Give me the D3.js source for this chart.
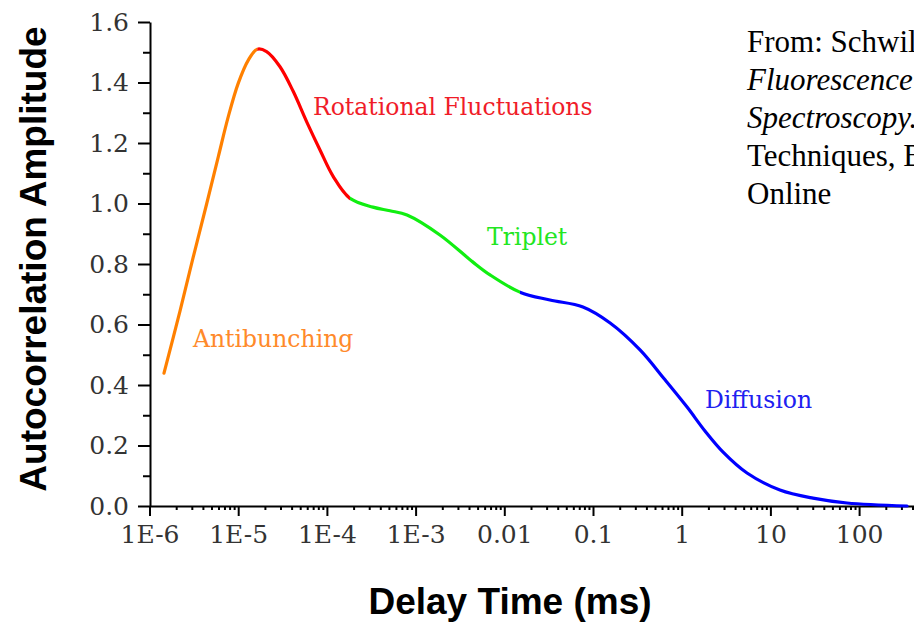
<!DOCTYPE html>
<html>
<head>
<meta charset="utf-8">
<script src="https://cdn.jsdelivr.net/npm/d3@7"></script>
<style>
  body { margin: 0; background: #fff; }
  svg { display: block; }
</style>
</head>
<body>
<div class="canvas"></div>
<script>
// data (delay time in ms, amplitude)
const antibunching = [
  [1.457e-6, 0.439], [2.21e-6, 0.645], [3.12e-6, 0.824], [4.42e-6, 1.0],
  [5.97e-6, 1.155], [7.73e-6, 1.287], [1.0e-5, 1.397], [1.30e-5, 1.474],
  [1.64e-5, 1.510]
];
const rotational = [
  [1.64e-5, 1.510], [2.09e-5, 1.502], [2.96e-5, 1.452], [4.18e-5, 1.370],
  [5.92e-5, 1.270], [8.36e-5, 1.177], [1.18e-4, 1.089], [1.82e-4, 1.017]
];
const triplet = [
  [1.82e-4, 1.017], [3.3e-4, 0.988], [5.14e-4, 0.976], [8.0e-4, 0.962],
  [1.88e-3, 0.896], [4.4e-3, 0.807], [6.9e-3, 0.764], [0.015, 0.707]
];
const diffusion = [
  [0.015, 0.707], [0.0327, 0.681], [0.077, 0.658], [0.156, 0.605],
  [0.339, 0.516], [0.649, 0.417], [1.15, 0.327], [1.83, 0.248],
  [2.93, 0.178], [5.45, 0.109], [12.8, 0.053], [30.2, 0.026],
  [73, 0.010], [347, 0.0]
];

const xTickValues = [1e-6, 1e-5, 1e-4, 1e-3, 0.01, 0.1, 1, 10, 100];
const xTickLabels = ['1E-6', '1E-5', '1E-4', '1E-3', '0.01', '0.1', '1', '10', '100'];
const yTickValues = [0, 0.2, 0.4, 0.6, 0.8, 1.0, 1.2, 1.4, 1.6];

const segNames = ['Antibunching', 'Rotational Fluctuations', 'Triplet', 'Diffusion'];
const segColors = ['#ff8000', '#ff0000', '#11ee11', '#0000ff'];
const labelColors = ['#ff8a2a', '#f01c28', '#22e622', '#2020f0'];
// label anchors in data units
const labelAnchors = [[3.09e-6, 0.526], [6.97e-5, 1.293], [6.38e-3, 0.863], [1.83, 0.324]];

const width = 914, height = 624;

const svg = d3.select('.canvas')
  .append('svg')
    .attr('width', width)
    .attr('height', height);

// scales
const x = d3.scaleLog()
  .domain([1e-6, 1000])
  .range([149.5, 149.5 + 9 * 88.7]);

const y = d3.scaleLinear()
  .domain([0, 1.6])
  .range([506, 22]);

// minor ticks
const xMinor = [];
for (let e = -6; e <= 2; e++) {
  for (let k = 2; k <= 9; k++) xMinor.push(k * Math.pow(10, e));
}
const yMinor = d3.range(0.1, 1.6, 0.2);

const serif = 'DejaVu Serif';

// y axis
svg.append('g')
  .attr('transform', 'translate(150,0)')
  .call(d3.axisLeft(y).tickValues(yTickValues).tickSize(12).tickSizeOuter(0)
    .tickPadding(9).tickFormat(d3.format('.1f')));

svg.append('g')
  .attr('transform', 'translate(150,0)')
  .call(d3.axisLeft(y).tickValues(yMinor).tickSize(7).tickFormat(''))
  .call(g => g.select('.domain').remove());

// x axis
svg.append('g')
  .attr('transform', 'translate(0,506)')
  .call(d3.axisBottom(x).tickValues(xTickValues).tickSize(10).tickSizeOuter(0)
    .tickPadding(9).tickFormat((d, i) => xTickLabels[i]));

svg.append('g')
  .attr('transform', 'translate(0,506)')
  .call(d3.axisBottom(x).tickValues(xMinor).tickSize(4).tickFormat(''))
  .call(g => g.select('.domain').remove());

svg.selectAll('.domain, .tick line')
  .attr('stroke', '#000')
  .attr('stroke-width', 2);

svg.selectAll('.tick text')
  .attr('font-family', serif)
  .attr('font-size', 25)
  .attr('fill', '#333');

// one smooth curve through all points, coloured per segment with clip rects
const segments = [antibunching, rotational, triplet, diffusion];
const allPoints = antibunching.concat(rotational.slice(1), triplet.slice(1), diffusion.slice(1));

const line = d3.line()
  .x(d => x(d[0]))
  .y(d => y(d[1]))
  .curve(d3.curveCatmullRom.alpha(0.5));

const defs = svg.append('defs');
segments.forEach((seg, i) => {
  const x0 = i === 0 ? 0 : x(seg[0][0]);
  const x1 = i === segments.length - 1 ? width : x(seg[seg.length - 1][0]);
  defs.append('clipPath')
    .attr('id', 'seg' + i)
    .append('rect')
      .attr('x', x0)
      .attr('y', 0)
      .attr('width', x1 - x0)
      .attr('height', height);
});

svg.append('g')
  .selectAll('path')
  .data(segments)
  .enter()
  .append('path')
    .attr('d', line(allPoints))
    .attr('clip-path', (d, i) => `url(#seg${i})`)
    .attr('fill', 'none')
    .attr('stroke', (d, i) => segColors[i])
    .attr('stroke-width', 3.2)
    .attr('stroke-linecap', 'round');

// segment labels
svg.append('g')
  .selectAll('text')
  .data(segNames)
  .enter()
  .append('text')
    .attr('x', (d, i) => x(labelAnchors[i][0]))
    .attr('y', (d, i) => y(labelAnchors[i][1]))
    .attr('font-family', serif)
    .attr('font-size', 23.5)
    .attr('fill', (d, i) => labelColors[i])
    .text(d => d);

// axis titles
svg.append('text')
  .attr('transform', 'translate(46,259) rotate(-90)')
  .attr('text-anchor', 'middle')
  .attr('font-family', 'Liberation Sans, Arial, sans-serif')
  .attr('font-weight', 'bold')
  .attr('font-size', 37)
  .attr('fill', '#000')
  .text('Autocorrelation Amplitude');

svg.append('text')
  .attr('x', 510)
  .attr('y', 614)
  .attr('text-anchor', 'middle')
  .attr('font-family', 'Liberation Sans, Arial, sans-serif')
  .attr('font-weight', 'bold')
  .attr('font-size', 37)
  .attr('fill', '#000')
  .text('Delay Time (ms)');

// source note (runs off the right edge as in the original)
const note = svg.append('text')
  .attr('font-family', 'Liberation Serif, Times New Roman, serif')
  .attr('font-size', 31)
  .attr('fill', '#000');

const noteLines = [
  ['From: Schwille & Haustein,', false],
  ['Fluorescence Correlation', true],
  ['Spectroscopy. Biophysical', true],
  ['Techniques, Biophysics Textbook', false],
  ['Online', false]
];

note.selectAll('tspan')
  .data(noteLines)
  .enter()
  .append('tspan')
    .attr('x', 747)
    .attr('y', (d, i) => 52 + i * 38)
    .attr('font-style', d => d[1] ? 'italic' : 'normal')
    .text(d => d[0]);
</script>
</body>
</html>
